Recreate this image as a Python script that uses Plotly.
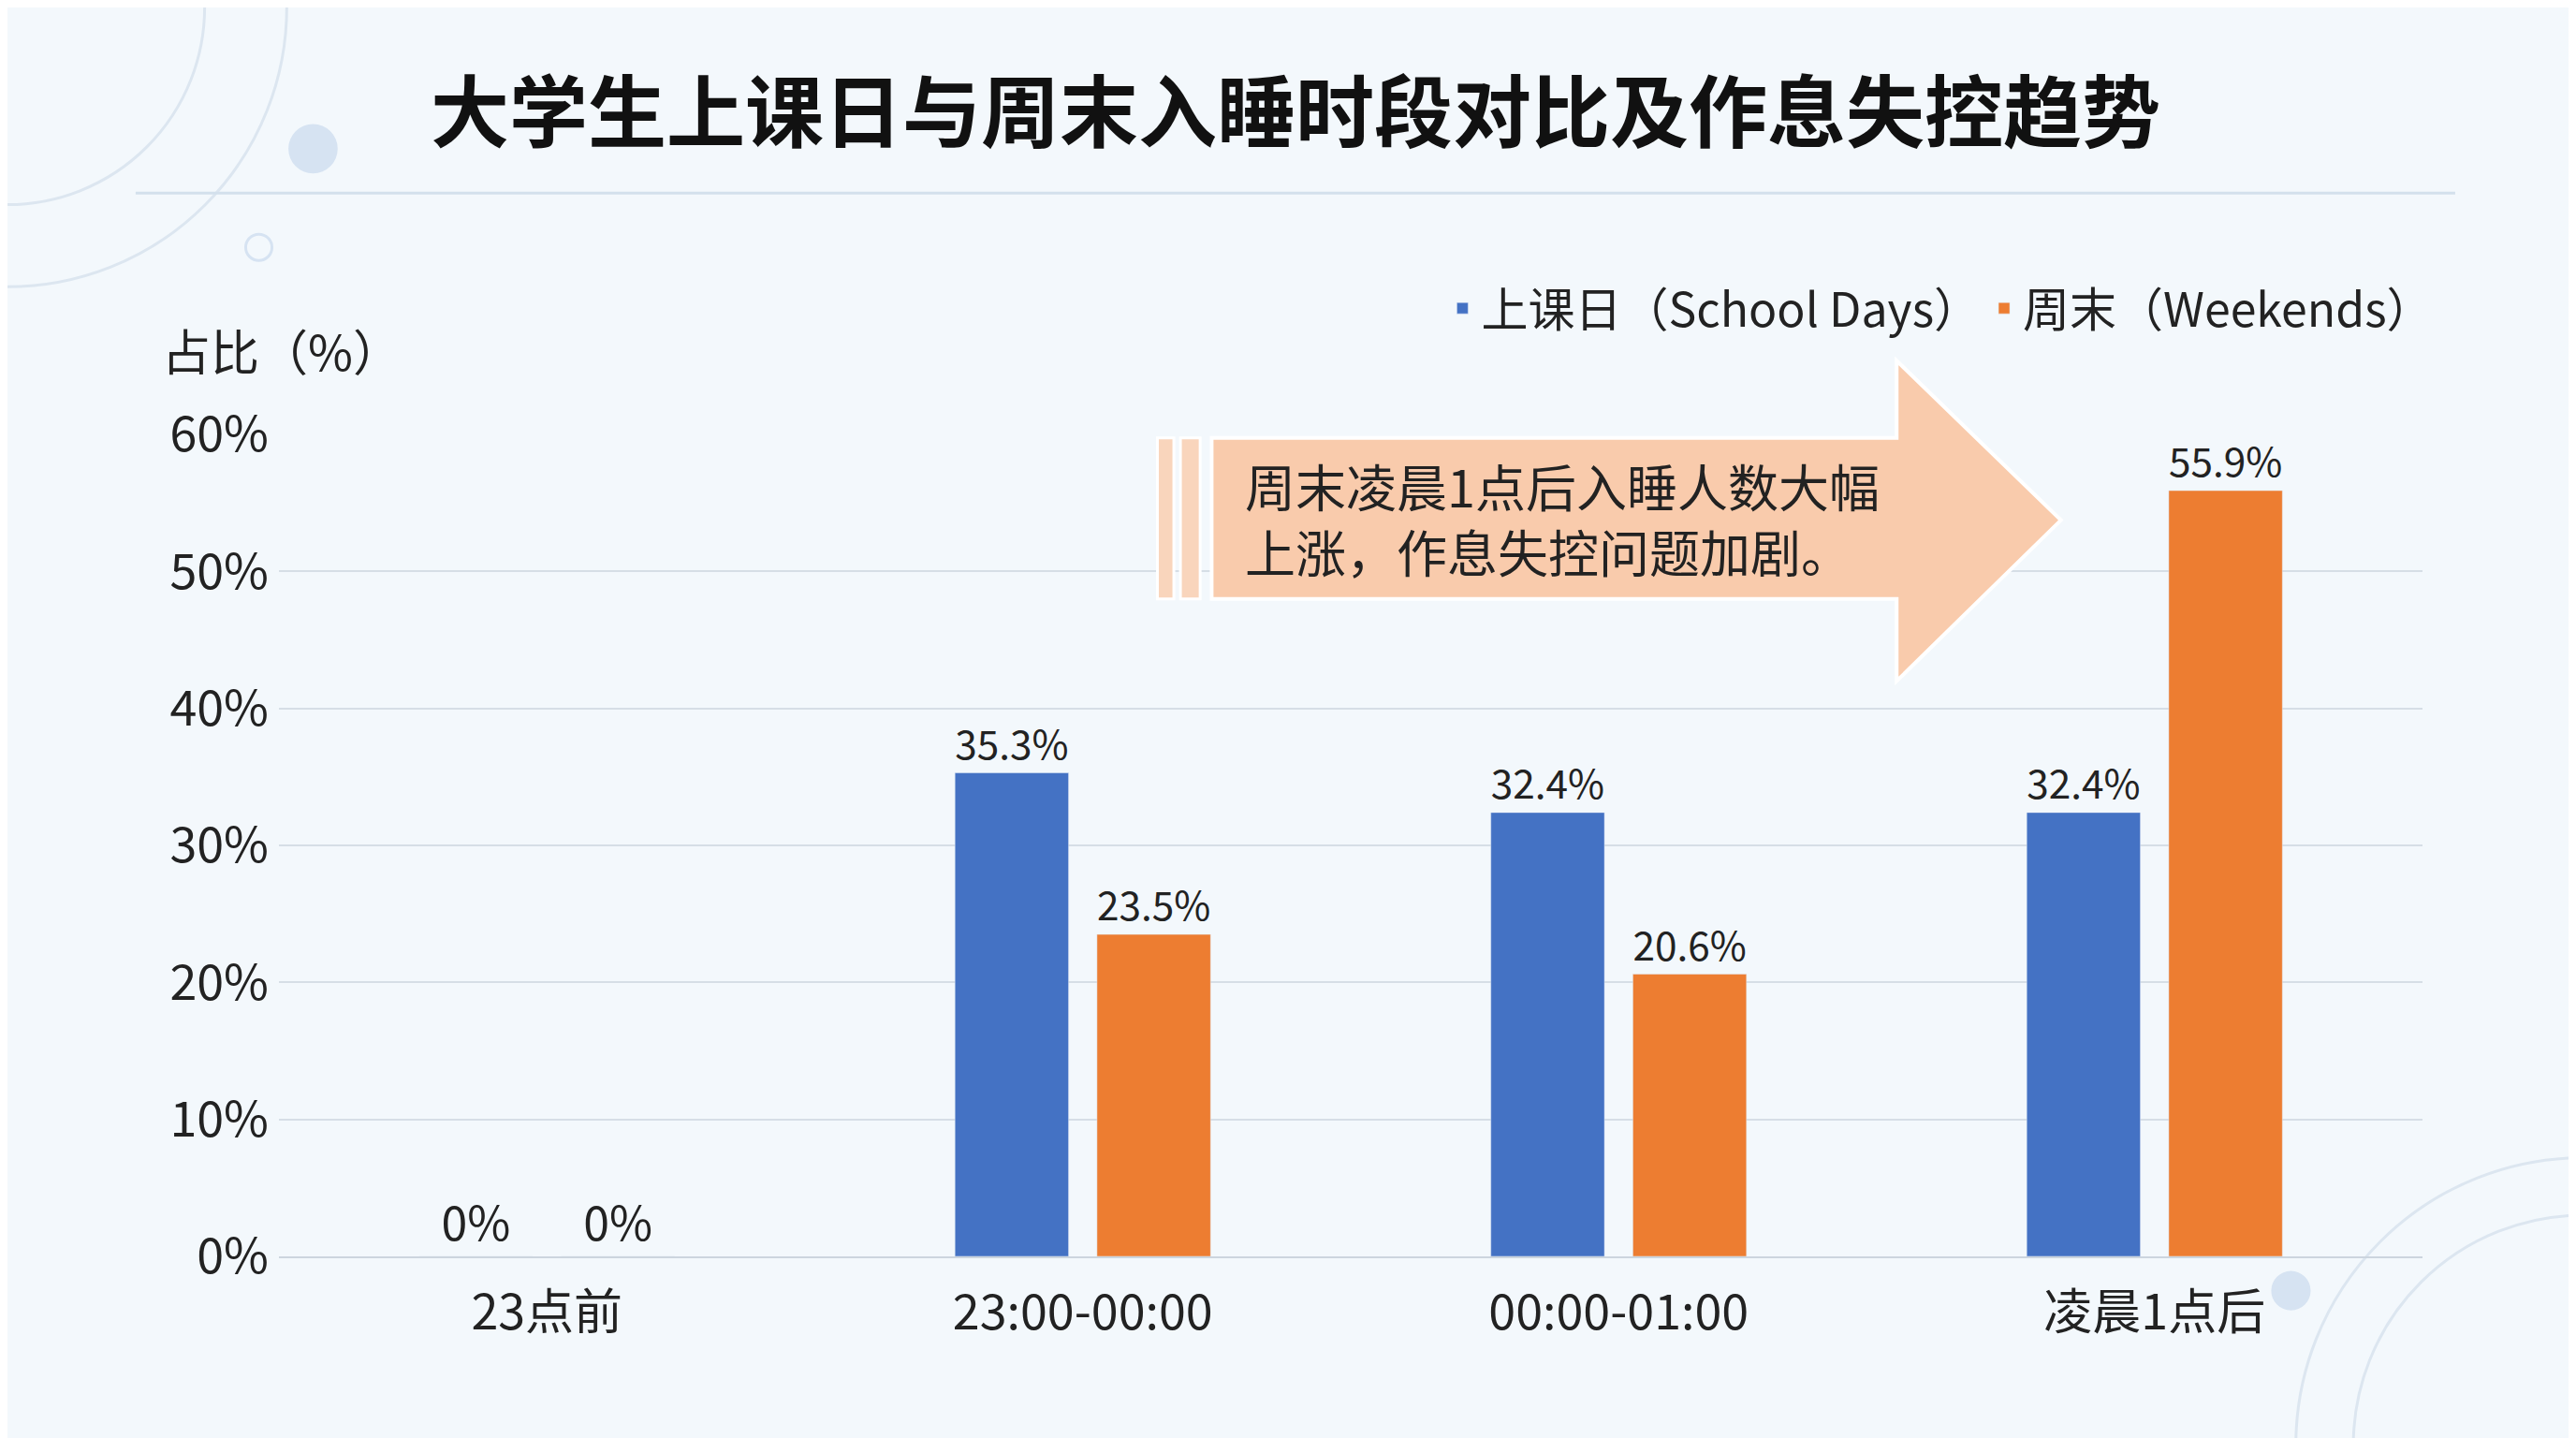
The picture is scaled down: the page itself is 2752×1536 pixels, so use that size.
import plotly.graph_objects as go

categories = ["23点前", "23:00-00:00", "00:00-01:00", "凌晨1点后"]
school_days = [0, 35.3, 32.4, 32.4]
weekends = [0, 23.5, 20.6, 55.9]

W, H = 2752, 1536
L, R, T, B = 290, 172, 456, 202
FONT = "Noto Sans CJK SC"

def px(x):
    return (x * 1.755 - L) / (W - L - R)

def py(y):
    return (H - B - y * 1.755) / (H - T - B)

fig = go.Figure()
fig.add_bar(x=categories, y=school_days, name="上课日（School Days）", marker_color="#4472C4",
            text=[f"{v:g}%" for v in school_days], textposition="outside",
            textfont=dict(size=50, color="#222"), cliponaxis=False)
fig.add_bar(x=categories, y=weekends, name="周末（Weekends）", marker_color="#ED7D31",
            text=[f"{v:g}%" for v in weekends], textposition="outside",
            textfont=dict(size=50, color="#222"), cliponaxis=False)

shapes = []
# header line
shapes.append(dict(type="line", xref="paper", yref="paper", x0=px(78), x1=px(1490), y0=py(113), y1=py(113),
                   line=dict(color="#D3E0EC", width=3)))
# decorative circles
for cx, cy, r in [(0, 0, 120), (0, 0, 170)]:
    shapes.append(dict(type="circle", xref="paper", yref="paper", x0=px(cx - r), x1=px(cx + r),
                       y0=py(cy + r), y1=py(cy - r), line=dict(color="#DCE6F0", width=3), layer="below"))
for cx, cy, r in [(1568, 875, 175), (1568, 875, 140)]:
    shapes.append(dict(type="circle", xref="paper", yref="paper", x0=px(cx - r), x1=px(cx + r),
                       y0=py(cy + r), y1=py(cy - r), line=dict(color="#DCE6F0", width=3), layer="below"))
shapes.append(dict(type="circle", xref="paper", yref="paper", x0=px(171), x1=px(201), y0=py(101), y1=py(71),
                   fillcolor="#D6E3F2", line=dict(width=0), layer="below"))
shapes.append(dict(type="circle", xref="paper", yref="paper", x0=px(145), x1=px(161), y0=py(154), y1=py(138),
                   line=dict(color="#D6E3F2", width=3), layer="below"))
shapes.append(dict(type="circle", xref="paper", yref="paper", x0=px(1378), x1=px(1402), y0=py(793), y1=py(769),
                   fillcolor="#D6E3F2", line=dict(width=0), layer="below"))
# arrow
pts = [(733, 262), (1150, 262), (1150, 215), (1250, 312), (1150, 410), (1150, 360), (733, 360)]
path = "M " + " L ".join(f"{px(x)},{py(y)}" for x, y in pts) + " Z"
shapes.append(dict(type="path", xref="paper", yref="paper", path=path, fillcolor="#F9CBAC",
                   line=dict(color="white", width=4)))
for x0, x1 in [(700, 710), (714, 726)]:
    shapes.append(dict(type="rect", xref="paper", yref="paper", x0=px(x0), x1=px(x1), y0=py(360), y1=py(262),
                       fillcolor="#F9D5BC", line=dict(color="white", width=3)))

fig.update_layout(
    width=W, height=H, margin=dict(l=L, r=R, t=T, b=B),
    paper_bgcolor="#F3F8FC", plot_bgcolor="#F3F8FC",
    font=dict(family=FONT, color="#222"),
    barmode="group", bargap=0.47, bargroupgap=0.2,
    title=dict(text="<b>大学生上课日与周末入睡时段对比及作息失控趋势</b>", x=0.5, xanchor="center",
               y=1 - 114 / H, yanchor="middle", font=dict(size=84, color="#111")),
    legend=dict(orientation="h", x=px(1480), xanchor="right", y=py(183), yanchor="middle",
                font=dict(size=50), bgcolor="rgba(0,0,0,0)"),
    xaxis=dict(tickfont=dict(size=52), showgrid=False, ticks="", showline=True, linecolor="#CCD5DE",
               linewidth=2, ticklabelstandoff=14),
    yaxis=dict(range=[0, 60], dtick=10, ticksuffix="%", tickfont=dict(size=52), gridcolor="#D6DEE6",
               gridwidth=2, zeroline=False, ticklabelstandoff=10),
    shapes=shapes,
    annotations=[
        dict(text="占比（%）", xref="paper", yref="paper", x=px(93), y=py(208), xanchor="left",
             yanchor="middle", showarrow=False, font=dict(size=52)),
        dict(text="周末凌晨1点后入睡人数大幅<br>上涨，作息失控问题加剧。", xref="paper", yref="paper",
             x=px(752), y=py(311), xanchor="left", yanchor="middle", align="left", showarrow=False,
             font=dict(size=54, color="#222")),
    ],
)
fig.write_html("out.html")
